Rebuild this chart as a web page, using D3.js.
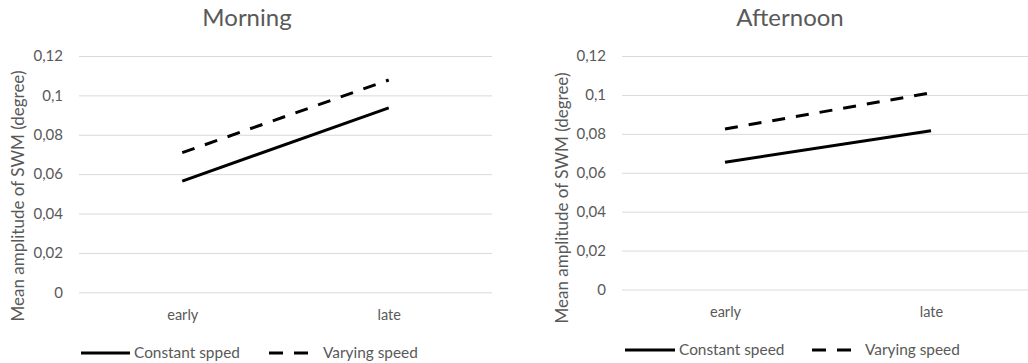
<!DOCTYPE html>
<html>
<head>
<meta charset="utf-8">
<script src="https://cdn.jsdelivr.net/npm/d3@7"></script>
<style>
  html, body { margin: 0; padding: 0; background: #fff; }
  svg { display: block; }
  text { font-family: Lato, "Open Sans", sans-serif; fill: #595959; }
</style>
</head>
<body>
<svg id="chart" width="1028" height="363"></svg>
<script>
const categories = ["early", "late"];
const yTicks = [0, 0.02, 0.04, 0.06, 0.08, 0.1, 0.12];
const panelTitles = ["Morning", "Afternoon"];
const morningConstant = [0.0565, 0.0937];
const morningVarying = [0.0709, 0.1078];
const afternoonConstant = [0.0654, 0.0816];
const afternoonVarying = [0.0825, 0.1011];
const morningLegend = ["Constant spped", "Varying speed"];
const afternoonLegend = ["Constant speed", "Varying speed"];
const yLabel = "Mean amplitude of SWM (degree)";

const panels = [
  { title: panelTitles[0], constant: morningConstant, varying: morningVarying, legend: morningLegend,
    left: 79, right: 492, top: 56, bottom: 292.3, titleX: 247, yLabelX: 24, yLabelY: 196, catY: 320,
    legY: 353, legSolid: [81, 130], legDash: [269, 308], legText2: 323 },
  { title: panelTitles[1], constant: afternoonConstant, varying: afternoonVarying, legend: afternoonLegend,
    left: 622, right: 1034, top: 56, bottom: 289.5, titleX: 790, yLabelX: 568, yLabelY: 198, catY: 317,
    legY: 350, legSolid: [625, 675], legDash: [812, 851], legText2: 865 }
];

const svg = d3.select("#chart");
const fmt = v => String(v).replace(".", ",");
const FONT = "Lato, 'Open Sans', sans-serif";

panels.forEach(p => {
  const g = svg.append("g");
  const x = d3.scalePoint().domain(categories).range([p.left, p.right]).padding(0.5);
  const y = d3.scaleLinear().domain([0, 0.12]).range([p.bottom, p.top]);

  // title
  g.append("text").attr("x", p.titleX).attr("y", 26).attr("text-anchor", "middle")
    .style("font-size", "24px").text(p.title);

  // gridlines + tick labels
  const yAxis = d3.axisLeft(y).tickValues(yTicks).tickFormat(fmt)
    .tickSize(-(p.right - p.left)).tickPadding(16);
  const ya = g.append("g").attr("transform", `translate(${p.left},0)`).call(yAxis);
  ya.select(".domain").remove();
  ya.selectAll(".tick line").attr("stroke", "#d9d9d9").attr("stroke-width", 1);
  ya.selectAll(".tick text").style("font-size", "15px").style("fill", "#595959")
    .style("font-family", FONT);

  // x axis labels
  const xAxis = d3.axisBottom(x).tickSize(0).tickPadding(0);
  const xa = g.append("g").attr("transform", `translate(0,${p.catY})`).call(xAxis);
  xa.select(".domain").remove();
  xa.selectAll(".tick text").attr("dy", 0).attr("y", 0).style("font-size", "14.5px")
    .style("fill", "#595959").style("font-family", FONT);

  // y label
  g.append("text").attr("transform", `translate(${p.yLabelX},${p.yLabelY}) rotate(-90)`)
    .attr("text-anchor", "middle").style("font-size", "17px").text(yLabel);

  const line = d3.line().x((d, i) => x(categories[i])).y(d => y(d));
  g.append("path").datum(p.constant).attr("d", line).attr("fill", "none")
    .attr("stroke", "#000").attr("stroke-width", 3);
  g.append("path").datum(p.varying).attr("d", line).attr("fill", "none")
    .attr("stroke", "#000").attr("stroke-width", 3).attr("stroke-dasharray", "13,11");

  // legend
  g.append("line").attr("x1", p.legSolid[0]).attr("x2", p.legSolid[1])
    .attr("y1", p.legY).attr("y2", p.legY).attr("stroke", "#000").attr("stroke-width", 3);
  g.append("text").attr("x", p.legSolid[1] + 4).attr("y", p.legY + 5)
    .style("font-size", "15.4px").text(p.legend[0]);
  g.append("line").attr("x1", p.legDash[0]).attr("x2", p.legDash[1])
    .attr("y1", p.legY).attr("y2", p.legY).attr("stroke", "#000").attr("stroke-width", 3)
    .attr("stroke-dasharray", "14,11");
  g.append("text").attr("x", p.legText2).attr("y", p.legY + 5)
    .style("font-size", "15.4px").text(p.legend[1]);
});
</script>
</body>
</html>
